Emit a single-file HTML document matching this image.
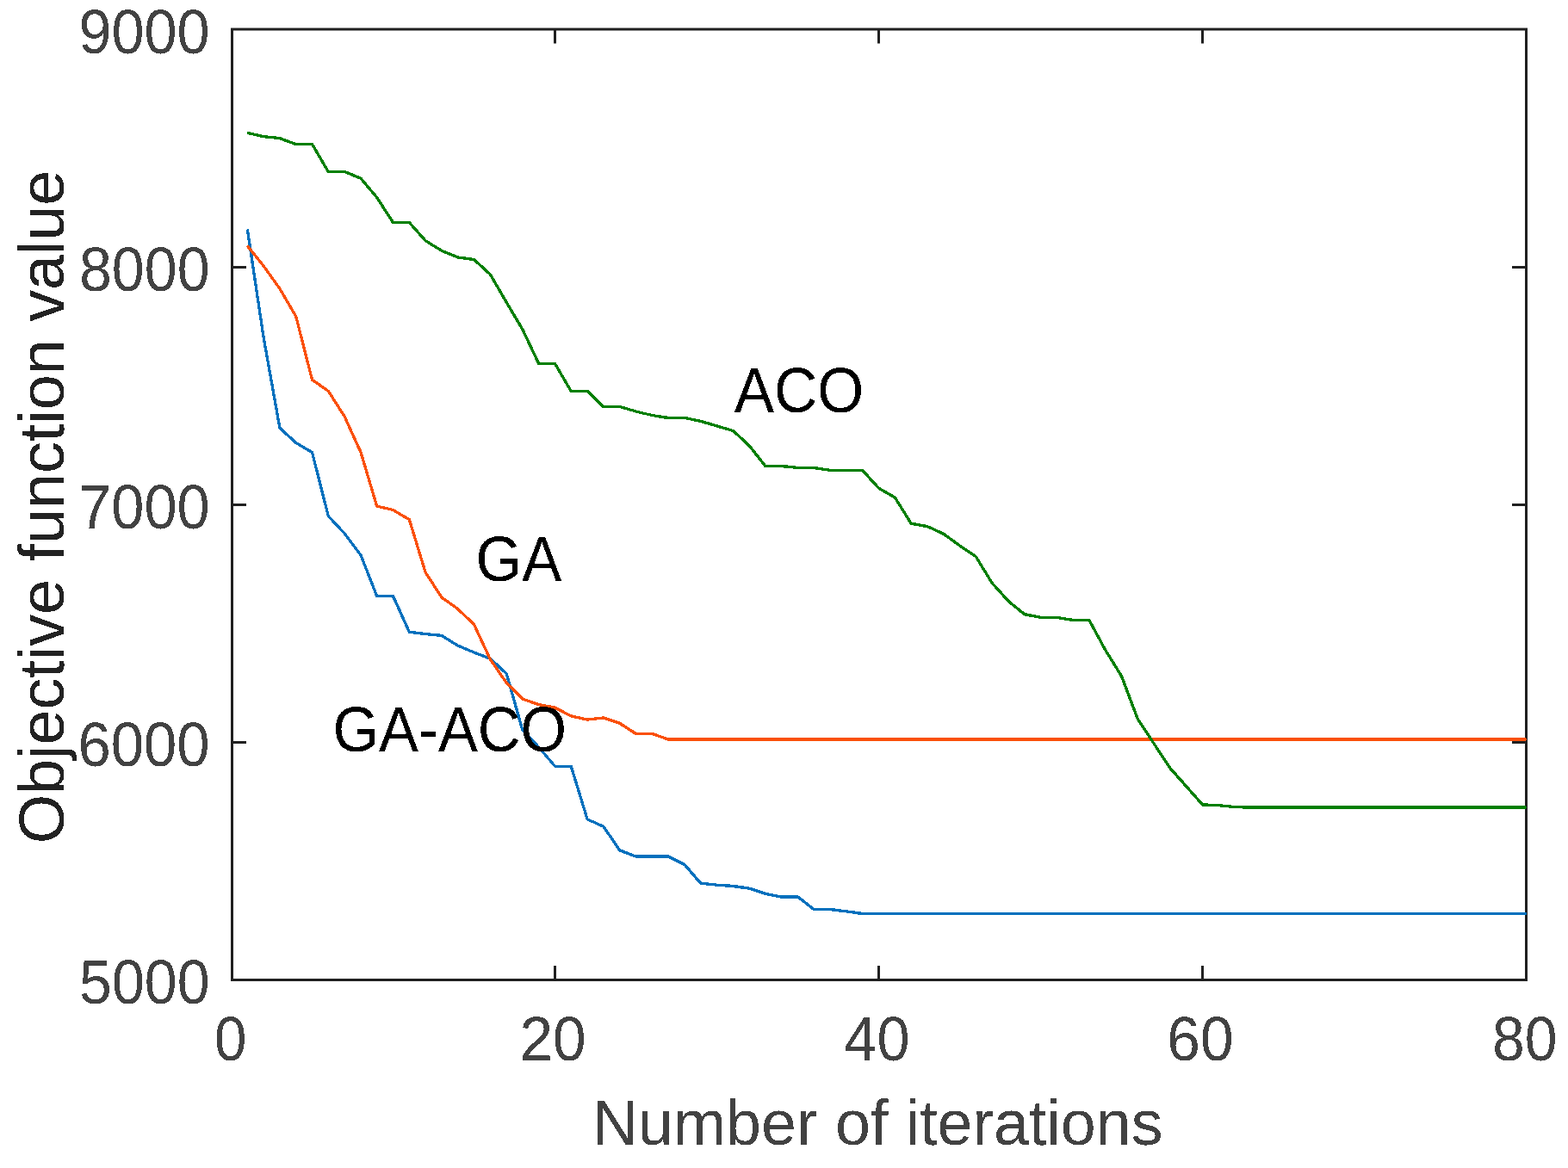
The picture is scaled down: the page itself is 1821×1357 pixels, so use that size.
<!DOCTYPE html>
<html><head><meta charset="utf-8"><title>Objective function value vs. number of iterations</title>
<style>html,body{margin:0;padding:0;background:#fff;}body{width:1821px;height:1357px;overflow:hidden;}svg{display:block;}</style>
</head><body>
<svg width="1821" height="1357" viewBox="0 0 1821 1357">
<defs><filter id="al" filterUnits="userSpaceOnUse" x="0" y="0" width="1821" height="1357" color-interpolation-filters="sRGB"><feComponentTransfer><feFuncA type="discrete" tableValues="0 1"/></feComponentTransfer></filter></defs>
<rect width="1821" height="1357" fill="#fff"/>
<g stroke="#202020" stroke-width="3" fill="none">
<path d="M269.5,34H1772.5V1138.5H269.5Z" stroke-linejoin="miter"/>
<path d="M269.5,310.5h16.5M1772.5,310.5h-16.5"/>
<path d="M269.5,586.4h16.5M1772.5,586.4h-16.5"/>
<path d="M269.5,862.4h16.5M1772.5,862.4h-16.5"/>
<path d="M644.5,1138.5v-16.5M644.5,34v16.5"/>
<path d="M1020.5,1138.5v-16.5M1020.5,34v16.5"/>
<path d="M1396.5,1138.5v-16.5M1396.5,34v16.5"/>
</g>
<g fill="none" stroke-linejoin="miter" stroke-miterlimit="10" stroke-linecap="butt" filter="url(#al)">
<polyline points="287.3,266.6 306.1,392.0 324.9,497.2 343.7,514.5 362.5,525.5 381.3,599.6 400.1,619.7 418.9,644.7 437.7,692.5 456.5,692.5 475.3,734.2 494.1,736.6 512.9,738.4 531.7,750.1 550.5,758.0 569.3,765.3 588.1,782.5 606.9,848.5 625.7,868.0 644.5,890.2 663.3,890.4 682.1,951.9 700.9,960.2 719.7,987.9 738.5,995.0 757.3,995.0 776.1,995.0 794.9,1004.4 813.7,1026.2 832.5,1028.2 851.3,1029.5 870.1,1032.0 888.9,1038.3 907.7,1042.0 926.5,1042.0 945.3,1056.5 964.1,1056.5 982.9,1058.9 1001.7,1061.5 1020.5,1061.5 1039.3,1061.5 1058.1,1061.5 1076.9,1061.5 1095.7,1061.5 1114.5,1061.5 1133.3,1061.5 1152.1,1061.5 1170.9,1061.5 1189.7,1061.5 1208.5,1061.5 1227.3,1061.5 1246.1,1061.5 1264.9,1061.5 1283.7,1061.5 1302.5,1061.5 1321.3,1061.5 1340.1,1061.5 1358.9,1061.5 1377.7,1061.5 1396.5,1061.5 1415.3,1061.5 1434.1,1061.5 1452.9,1061.5 1471.7,1061.5 1490.5,1061.5 1509.3,1061.5 1528.1,1061.5 1546.9,1061.5 1565.7,1061.5 1584.5,1061.5 1603.3,1061.5 1622.1,1061.5 1640.9,1061.5 1659.7,1061.5 1678.5,1061.5 1697.3,1061.5 1716.1,1061.5 1734.9,1061.5 1753.7,1061.5 1772.5,1061.5" stroke="#0070BD" stroke-width="3.3"/>
<polyline points="287.3,285.6 306.1,309.0 324.9,335.3 343.7,367.7 362.5,441.2 381.3,454.4 400.1,483.9 418.9,525.2 437.7,588.1 456.5,592.5 475.3,603.6 494.1,665.0 512.9,694.0 531.7,707.5 550.5,725.5 569.3,766.0 588.1,793.2 606.9,812.0 625.7,818.6 644.5,822.2 663.3,831.9 682.1,836.1 700.9,833.9 719.7,840.3 738.5,852.5 757.3,852.5 776.1,859.0 794.9,859.0 813.7,859.0 832.5,859.0 851.3,859.0 870.1,859.0 888.9,859.0 907.7,859.0 926.5,859.0 945.3,859.0 964.1,859.0 982.9,859.0 1001.7,859.0 1020.5,859.0 1039.3,859.0 1058.1,859.0 1076.9,859.0 1095.7,859.0 1114.5,859.0 1133.3,859.0 1152.1,859.0 1170.9,859.0 1189.7,859.0 1208.5,859.0 1227.3,859.0 1246.1,859.0 1264.9,859.0 1283.7,859.0 1302.5,859.0 1321.3,859.0 1340.1,859.0 1358.9,859.0 1377.7,859.0 1396.5,859.0 1415.3,859.0 1434.1,859.0 1452.9,859.0 1471.7,859.0 1490.5,859.0 1509.3,859.0 1528.1,859.0 1546.9,859.0 1565.7,859.0 1584.5,859.0 1603.3,859.0 1622.1,859.0 1640.9,859.0 1659.7,859.0 1678.5,859.0 1697.3,859.0 1716.1,859.0 1734.9,859.0 1753.7,859.0 1772.5,859.0" stroke="#FA500A" stroke-width="3.3"/>
<polyline points="287.3,154.3 306.1,158.7 324.9,160.6 343.7,167.5 362.5,167.5 381.3,199.5 400.1,199.5 418.9,207.2 437.7,229.5 456.5,258.5 475.3,258.5 494.1,279.6 512.9,291.2 531.7,298.8 550.5,301.6 569.3,318.7 588.1,351.2 606.9,382.9 625.7,422.5 644.5,422.5 663.3,454.5 682.1,454.5 700.9,472.5 719.7,472.5 738.5,478.0 757.3,482.5 776.1,485.5 794.9,485.5 813.7,489.4 832.5,494.9 851.3,500.4 870.1,517.7 888.9,541.5 907.7,541.5 926.5,543.3 945.3,543.5 964.1,546.4 982.9,546.4 1001.7,546.4 1020.5,567.2 1039.3,578.0 1058.1,608.2 1076.9,611.5 1095.7,620.2 1114.5,633.9 1133.3,646.6 1152.1,677.3 1170.9,698.2 1189.7,713.6 1208.5,717.4 1227.3,717.4 1246.1,720.5 1264.9,720.4 1283.7,755.2 1302.5,785.6 1321.3,835.4 1340.1,863.9 1358.9,892.4 1377.7,913.6 1396.5,934.8 1415.3,935.7 1434.1,937.6 1452.9,938.0 1471.7,938.0 1490.5,938.0 1509.3,938.0 1528.1,938.0 1546.9,938.0 1565.7,938.0 1584.5,938.0 1603.3,938.0 1622.1,938.0 1640.9,938.0 1659.7,938.0 1678.5,938.0 1697.3,938.0 1716.1,938.0 1734.9,938.0 1753.7,938.0 1772.5,938.0" stroke="#007F00" stroke-width="3.3"/>
</g>
<g filter="url(#al)">
<g font-family="Liberation Sans, Arial, Helvetica, sans-serif" font-size="100" fill="#424242">
<text transform="translate(91.55,62.28) scale(0.6835,0.7223)">9000</text>
<text transform="translate(91.90,338.28) scale(0.6819,0.7223)">8000</text>
<text transform="translate(91.20,614.08) scale(0.6851,0.7194)">7000</text>
<text transform="translate(90.46,890.28) scale(0.6885,0.7223)">6000</text>
<text transform="translate(91.97,1165.98) scale(0.6821,0.7152)">5000</text>
<text transform="translate(249.11,1232.18) scale(0.6723,0.7208)">0</text>
<text transform="translate(603.43,1232.18) scale(0.6944,0.7208)">20</text>
<text transform="translate(980.36,1232.18) scale(0.6848,0.7208)">40</text>
<text transform="translate(1355.32,1232.18) scale(0.6954,0.7208)">60</text>
<text transform="translate(1732.92,1232.18) scale(0.6786,0.7208)">80</text>
</g>
<text transform="translate(687.63,1330.25) scale(0.7363,0.7497)" font-family="Liberation Sans, Arial, Helvetica, sans-serif" font-size="100" fill="#424242">Number of iterations</text>
<text transform="translate(74.27,980.30) rotate(-90) scale(0.7372,0.7389)" font-family="Liberation Sans, Arial, Helvetica, sans-serif" font-size="100" fill="#222222">Objective function value</text>
<text transform="translate(852.63,479.20) scale(0.6956,0.7364)" font-family="Liberation Sans, Arial, Helvetica, sans-serif" font-size="100" fill="#000">ACO</text>
<text transform="translate(552.45,675.17) scale(0.6908,0.7350)" font-family="Liberation Sans, Arial, Helvetica, sans-serif" font-size="100" fill="#000">GA</text>
<text transform="translate(386.45,873.17) scale(0.6890,0.7350)" font-family="Liberation Sans, Arial, Helvetica, sans-serif" font-size="100" fill="#000">GA-ACO</text>
</g>
</svg>
</body></html>
